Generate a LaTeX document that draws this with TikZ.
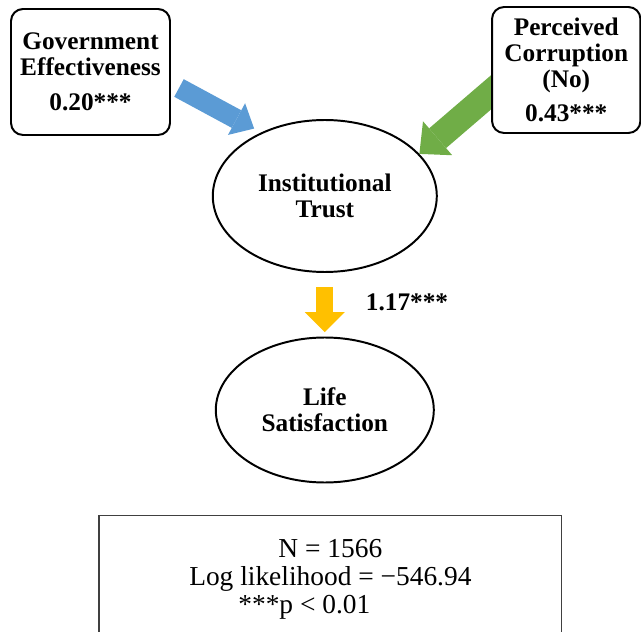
\documentclass[tikz,border=0pt]{standalone}
\usepackage{fontspec}
\setmainfont{Liberation Serif}
\usetikzlibrary{arrows.meta,shapes.geometric,backgrounds}
\definecolor{govblue}{HTML}{5B9BD5}
\definecolor{pcgreen}{HTML}{70AD47}
\definecolor{trustgold}{HTML}{FFC000}
\definecolor{statgray}{HTML}{404040}

\begin{document}
\begin{tikzpicture}[font=\fontsize{18}{18.5}\selectfont\bfseries,
  varbox/.style={draw,line width=1.4pt,rounded corners=0.3cm,fill=white,align=center,minimum height=3.15cm,inner sep=0pt},
  latent/.style={draw,ellipse,line width=1.4pt,align=center,inner sep=0pt},
  govflow/.style={draw=govblue,line width=0.5cm,-{Triangle[width=0.9cm,length=0.5cm,line width=0pt]}},
  pcflow/.style={draw=pcgreen,line width=0.65cm,-{Triangle[width=1.12cm,length=0.6cm,line width=0pt]}},
  trustflow/.style={draw=trustgold,line width=0.43cm,-{Triangle[width=1cm,length=0.5cm,line width=0pt]}}]
\useasboundingbox (0,0) rectangle (16.025,-15.8);
\node[varbox,minimum width=3.975cm] (gov) at (2.2625,-1.8) {Government\\Effectiveness\\[6pt]0.20***};
\node[varbox,minimum width=3.71cm] (pc) at (14.156,-1.75) {Perceived\\Corruption\\(No)\\[5.5pt]0.43***};
\node[latent,minimum width=5.6cm,minimum height=3.8cm] (trust) at (8.12,-4.9) {Institutional\\Trust};
\node[latent,minimum width=5.45cm,minimum height=3.625cm] (life) at (8.12,-10.25) {Life\\Satisfaction};
\begin{scope}[on background layer]
\draw[pcflow] ([shift={(0.4,-0.215)}]pc.west) -- (trust.24);
\end{scope}
\draw[govflow,shorten >=0.2cm] ([shift={(0.2,-0.4)}]gov.east) -- (trust.135);
\draw[trustflow,shorten <=0.35cm,shorten >=0.11cm] (trust.south) -- (life.north);
\node (beta) at (10.175,-7.55) {1.17***};
\node[draw=statgray,line width=0.9pt,minimum width=11.57cm,minimum height=3.19cm,align=center,font=\fontsize{19.5}{20.2}\selectfont\mdseries] (stats) at (8.259,-14.485) {N = 1566\\Log likelihood = −546.94\\***p < 0.01\hspace*{1.3cm}};
\end{tikzpicture}
\end{document}
